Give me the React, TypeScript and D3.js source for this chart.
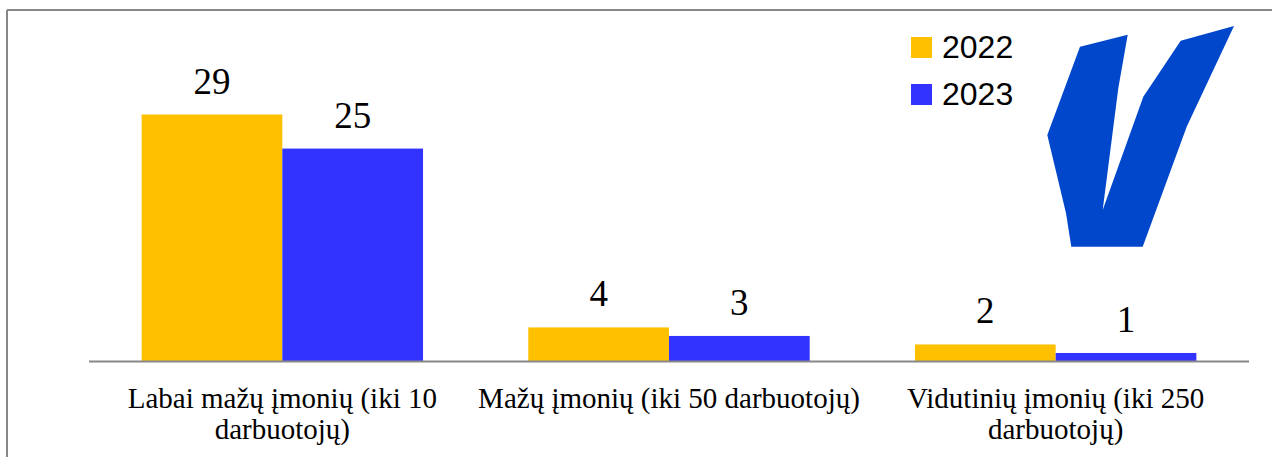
import React from "react";
import * as d3 from "d3";

const categories: string[][] = [
  ["Labai mažų įmonių (iki 10", "darbuotojų)"],
  ["Mažų įmonių (iki 50 darbuotojų)"],
  ["Vidutinių įmonių (iki 250", "darbuotojų)"],
];
const seriesNames = ["2022", "2023"];
const values2022 = [29, 4, 2];
const values2023 = [25, 3, 1];
const colors = ["#FFC000", "#3333FF"];

const logoPoints: [number, number][] = [
  [1080, 46.7], [1127.7, 34.7], [1118.3, 88.3], [1102.7, 210], [1143.3, 96.7],
  [1180.7, 40.7], [1234, 26], [1186.7, 126.7], [1142.7, 246.7], [1071.3, 246.7],
  [1066, 213.3], [1047.3, 135],
];

export default function App() {
  const W = 1272, H = 457;
  const x0 = d3.scaleBand<number>().domain(d3.range(categories.length)).range([89, 1249]).paddingInner(0).paddingOuter(0);
  const x1 = d3.scaleBand<number>().domain([0, 1]).range([0, x0.bandwidth()]).paddingInner(0).paddingOuter(0.374);
  const y = d3.scaleLinear().domain([0, 30]).range([361.5, 361.5 - 30 * 8.517]);
  const series = [values2022, values2023];
  const serif = "'Liberation Serif', 'Times New Roman', serif";
  return (
    <div style={{ position: "fixed", left: 0, top: 0, width: W, height: H, background: "#fff" }}>
      <svg width={W} height={H} style={{ display: "block" }}>
        <rect x={0} y={0} width={W} height={H} fill="#fff" />
        <line x1={7} y1={10} x2={W} y2={10} stroke="#888" strokeWidth={2} />
        <line x1={7} y1={10} x2={7} y2={H} stroke="#888" strokeWidth={2} />
        <polygon points={logoPoints.map((p) => p.join(",")).join(" ")} fill="#0047CC" />
        {categories.map((_, i) =>
          series.map((vals, s) => {
            const bx = (x0(i) as number) + (x1(s) as number);
            const bw = x1.bandwidth();
            return (
              <g key={`${i}-${s}`}>
                <rect x={bx} y={y(vals[i])} width={bw} height={y(0) - y(vals[i])} fill={colors[s]} />
                <text x={bx + bw / 2} y={y(vals[i]) - 21} textAnchor="middle" fontFamily={serif} fontSize={37} fill="#000">
                  {vals[i]}
                </text>
              </g>
            );
          })
        )}
        <line x1={89} y1={y(0)} x2={1249} y2={y(0)} stroke="#888" strokeWidth={2} />
        {categories.map((lines, i) => (
          <text key={i} textAnchor="middle" fontFamily={serif} fontSize={29} fill="#000">
            {lines.map((ln, j) => (
              <tspan key={j} x={(x0(i) as number) + x0.bandwidth() / 2} y={408 + j * 31}>
                {ln}
              </tspan>
            ))}
          </text>
        ))}
        {seriesNames.map((n, s) => (
          <g key={n}>
            <rect x={911} y={37 + s * 47} width={21} height={21} fill={colors[s]} />
            <text x={942} y={57.5 + s * 47} fontFamily="'Liberation Sans', Arial, sans-serif" fontSize={32} fill="#000">
              {n}
            </text>
          </g>
        ))}
      </svg>
    </div>
  );
}
